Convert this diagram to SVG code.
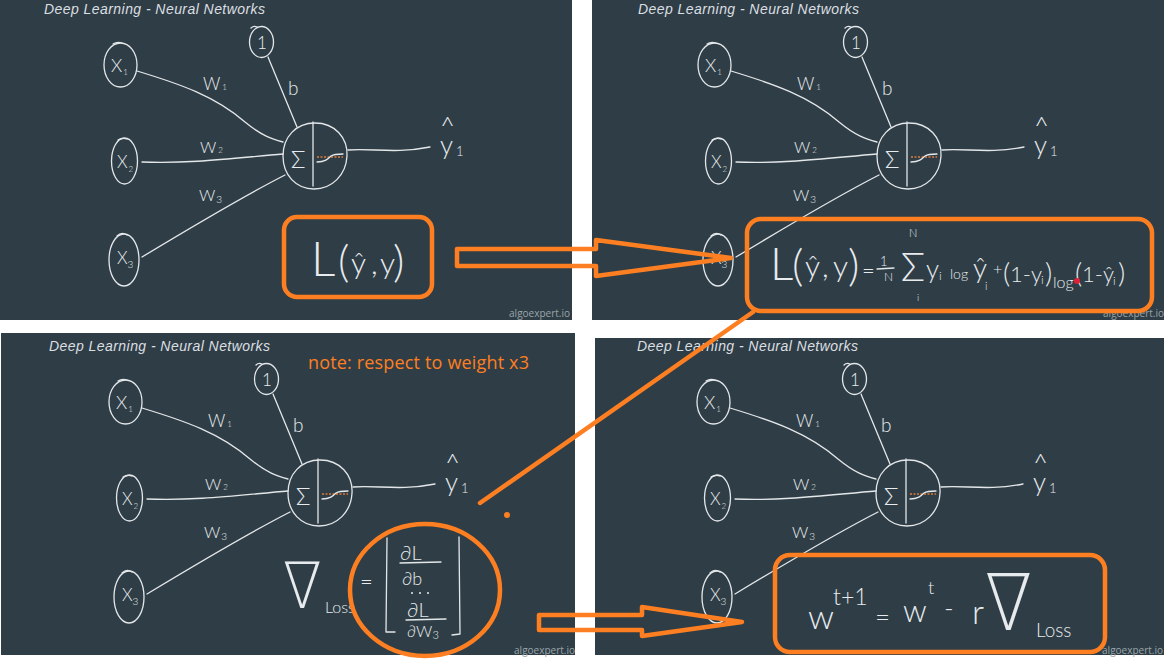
<svg xmlns="http://www.w3.org/2000/svg" width="1164" height="659" viewBox="0 0 1164 659">
<style>
.bg{fill:#2f3e46}
.ln{fill:none;stroke:#e4e7ea;stroke-width:1.3;stroke-linecap:round;stroke-linejoin:round}
.hw{fill:#e8ebee;font-family:Lato,"DejaVu Sans",sans-serif;font-weight:300}
.sym{fill:#e8ebee;font-family:"DejaVu Sans",sans-serif;font-weight:200}
.title{fill:#dcdfe2;font-family:"Liberation Sans",Arial,sans-serif;font-style:italic;font-size:14px}
.brand{fill:#9aa4aa;font-family:"Open Sans","Liberation Sans",sans-serif;font-size:10px}
.or{fill:none;stroke:#fd7f22;stroke-width:4.5;stroke-linejoin:round;stroke-linecap:round}
.note{fill:#fd7f22;font-family:"Open Sans","Liberation Sans",sans-serif;font-size:18px}
.dash{fill:none;stroke:#e07b39;stroke-width:1.5;stroke-dasharray:2 1.5}
.dot{fill:#e8ebee}
</style>
<defs>
<g id="net">
  <text class="title" x="44" y="14" textLength="221">Deep Learning - Neural Networks</text>
  <text class="brand" x="570" y="317" text-anchor="end">algoexpert.io</text>
  <g id="connectors">
    <path class="ln" d="M137,71 C180,84 215,96 245,122 C262,136 272,139 283,142"/>
    <path class="ln" d="M142,162 C190,164 235,158 283,154"/>
    <path class="ln" d="M142,257 C190,228 240,198 285,175"/>
    <path class="ln" d="M268,57 L297,127"/>
    <path class="ln" d="M348,150 C372,148 395,154 430,147"/>
  </g>
  <g id="n-x1">
    <ellipse class="ln" cx="120.5" cy="65" rx="16.5" ry="22"/>
    <path class="ln" d="M113,44 C116,42 119,42 122,43"/>
    <text class="hw" x="111" y="72" font-size="18">X<tspan font-size="8" dx="1" dy="3">1</tspan></text>
  </g>
  <g id="n-x2">
    <ellipse class="ln" cx="124.5" cy="161" rx="13" ry="23"/>
    <path class="ln" d="M118,140 C121,138 124,138 127,139"/>
    <text class="hw" x="117" y="168" font-size="17">X<tspan font-size="8" dx="1" dy="4">2</tspan></text>
  </g>
  <g id="n-x3">
    <ellipse class="ln" cx="124" cy="260" rx="15" ry="26"/>
    <path class="ln" d="M117,236 C120,233 124,233 127,235"/>
    <text class="hw" x="117" y="264" font-size="17">X<tspan font-size="10" dy="4">3</tspan></text>
  </g>
  <g id="n-bias">
    <ellipse class="ln" cx="261.5" cy="42" rx="12" ry="15.5"/>
    <path class="ln" d="M251,28 C253,26 255,26 257,27"/>
    <text class="hw" x="262" y="49" font-size="17" text-anchor="middle">1</text>
  </g>
  <g id="labels">
    <text class="hw" x="203" y="90" font-size="17">W<tspan font-size="8" dx="2">1</tspan></text>
    <text class="hw" x="200" y="153" font-size="16">W<tspan font-size="8" dx="2">2</tspan></text>
    <text class="hw" x="199" y="201" font-size="16">W<tspan font-size="10" dx="1" dy="2">3</tspan></text>
    <text class="hw" x="288" y="95" font-size="19">b</text>
  </g>
  <g id="n-sum">
    <path class="ln" d="M315,123 C335,123 348,138 347,156 C346,175 332,189 314,189 C296,189 283,175 283,156 C283,137 296,123 315,123 Z"/>
    <path class="ln" d="M313,122 L313,186"/>
    <text class="hw" x="291" y="168" font-size="24">Σ</text>
    <path class="dash" d="M317,157 H343"/>
    <path class="ln" d="M317,162 C325,162 328,159 331,156 C334,154 338,154 343,154"/>
  </g>
  <g id="n-yhat">
    <text class="hw" font-size="26"><tspan x="440" y="135">^</tspan><tspan x="440" y="154">y</tspan><tspan font-size="13" dx="3" dy="2">1</tspan></text>
  </g>
</g>
</defs>

<rect width="1164" height="659" fill="#ffffff"/>

<g id="panel1">
  <rect class="bg" x="0" y="0" width="572" height="320"/>
  <use href="#net"/>
  <rect id="box-L" class="or" x="284" y="217" width="148" height="80" rx="13"/>
  <text id="eq-L" class="hw"><tspan x="311" y="276" font-size="48">L</tspan><tspan x="338" y="277" font-size="44">(</tspan><tspan x="351" y="274" font-size="30">ŷ</tspan><tspan x="371" y="274" font-size="30">,</tspan><tspan x="380" y="274" font-size="30">y</tspan><tspan x="393" y="277" font-size="44">)</tspan></text>
</g>

<g id="panel2">
  <rect class="bg" x="592" y="0" width="572" height="320"/>
  <use href="#net" transform="translate(594,0)"/>
  <rect id="box-loss" class="or" x="747" y="219" width="405" height="92" rx="14"/>
  <path class="ln" d="M877,269 L894,268"/>
  <text id="eq-loss" class="hw"><tspan x="770" y="280" font-size="46">L</tspan><tspan x="792" y="281" font-size="44">(</tspan><tspan x="805" y="277" font-size="30">ŷ</tspan><tspan x="822" y="277" font-size="30">,</tspan><tspan x="833" y="277" font-size="30">y</tspan><tspan x="848" y="281" font-size="44">)</tspan><tspan x="862" y="278" font-size="22">=</tspan><tspan x="880" y="266" font-size="13">1</tspan><tspan x="884" y="281" font-size="12">N</tspan><tspan x="909" y="237" font-size="11">N</tspan><tspan x="901" y="281" font-size="40">Σ</tspan><tspan x="917" y="301" font-size="10">i</tspan><tspan x="926" y="278" font-size="26">y</tspan><tspan x="939" y="280" font-size="12">i</tspan><tspan x="950" y="279" font-size="14">log</tspan><tspan x="973" y="278" font-size="28">ŷ</tspan><tspan x="985" y="290" font-size="11">i</tspan><tspan x="993" y="275" font-size="16">+</tspan><tspan x="1003" y="283" font-size="28">(</tspan><tspan x="1010" y="282" font-size="22">1-y</tspan><tspan x="1041" y="284" font-size="12">i</tspan><tspan x="1045" y="283" font-size="28">)</tspan><tspan x="1053" y="288" font-size="16">log</tspan><tspan x="1075" y="283" font-size="28">(</tspan><tspan x="1082" y="282" font-size="22">1-ŷ</tspan><tspan x="1113" y="285" font-size="12">i</tspan><tspan x="1118" y="283" font-size="28">)</tspan></text>
  <circle cx="1077" cy="281" r="3" fill="#e0203a"/>
</g>

<g id="panel3">
  <rect class="bg" x="1" y="333" width="574" height="322"/>
  <use href="#net" transform="translate(5,337)"/>
  <text class="note" x="308" y="369" textLength="221">note: respect to weight x3</text>
  <g id="grad">
    <text class="sym" font-size="64" transform="translate(283,608) scale(0.88,1)">∇</text>
    <path class="ln" d="M387,538 L386,632 L395,632"/>
    <path class="ln" d="M459,537 L460,634 L452,635"/>
    <path class="ln" d="M400,563 L441,562"/>
    <path class="ln" d="M406,620 L446,619"/>
    <circle class="dot" cx="412" cy="593" r="1"/>
    <circle class="dot" cx="420" cy="593" r="1"/>
    <circle class="dot" cx="428" cy="593" r="1"/>
    <text class="hw"><tspan x="325" y="613" font-size="16">Loss</tspan><tspan x="360" y="589" font-size="22">=</tspan><tspan x="400" y="560" font-size="20">∂L</tspan><tspan x="402" y="585" font-size="18">∂b</tspan><tspan x="407" y="617" font-size="20">∂L</tspan><tspan x="407" y="637" font-size="16">∂W</tspan><tspan font-size="11" dy="2">3</tspan></text>
  </g>
  <ellipse id="circ-grad" class="or" cx="425" cy="590" rx="75" ry="66"/>
  <circle cx="507" cy="515" r="3" fill="#fd7f22"/>
</g>

<g id="panel4">
  <rect class="bg" x="595" y="338" width="569" height="317"/>
  <use href="#net" transform="translate(593,337)"/>
  <rect id="box-update" class="or" x="775" y="555" width="330" height="97" rx="15"/>
  <g id="eq-update">
    <text class="hw"><tspan x="808" y="629" font-size="34">w</tspan><tspan x="833" y="605" font-size="23">t+1</tspan><tspan x="875" y="626" font-size="26">=</tspan><tspan x="903" y="622" font-size="31">w</tspan><tspan x="928" y="594" font-size="18">t</tspan><tspan x="944" y="617" font-size="26">-</tspan><tspan x="972" y="624" font-size="34">r</tspan></text>
    <text class="sym" font-size="78" transform="translate(985,630) scale(0.88,1)">∇</text>
    <text class="hw" x="1036" y="637" font-size="19">Loss</text>
  </g>
</g>

<g id="annotations">
  <polygon id="arrow1" class="or" points="457,249 596,249 596,240 731,258 596,276 596,266 457,266"/>
  <path id="link" class="or" d="M753,312 L480,503"/>
  <polygon id="arrow2" class="or" points="539,615 642,615 642,607 742,622 642,636 642,630 539,630"/>
</g>
</svg>
